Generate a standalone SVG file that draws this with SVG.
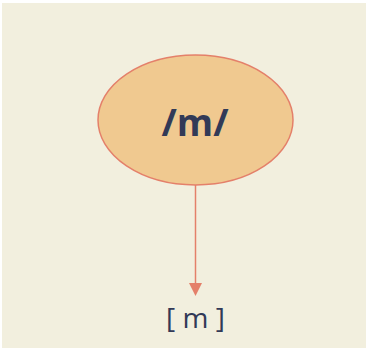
<svg xmlns="http://www.w3.org/2000/svg" width="366" height="358" viewBox="0 0 366 358">
<defs>
<style>
.node-shape{fill:#f0c990;stroke:#e4806a;stroke-width:1.5}
.label-main{font-family:"Open Sans","Liberation Sans",sans-serif;font-weight:700;fill:#323a57}
.label-sub{font-family:"Open Sans","Liberation Sans",sans-serif;fill:#323a57}
.edge{stroke:#e4806a;stroke-width:1.5;fill:none}
</style>
</defs>
<rect x="0" y="0" width="366" height="358" fill="#ffffff"/>
<rect x="2" y="3" width="364" height="345" fill="#f2efde"/>
<g id="connectors">
<line class="edge" x1="195.5" y1="185" x2="195.5" y2="290"/>
<path d="M189,283 L202,283 L195.5,296 z" fill="#e4806a"/>
</g>
<g id="node-phoneme">
<ellipse class="node-shape" cx="195.5" cy="120" rx="97.5" ry="65"/>
<text class="label-main" x="195" y="136" font-size="37" text-anchor="middle">/m/</text>
</g>
<g id="node-allophone">
<text class="label-sub" x="195.5" y="328" font-size="28" text-anchor="middle">[ m ]</text>
</g>
</svg>
